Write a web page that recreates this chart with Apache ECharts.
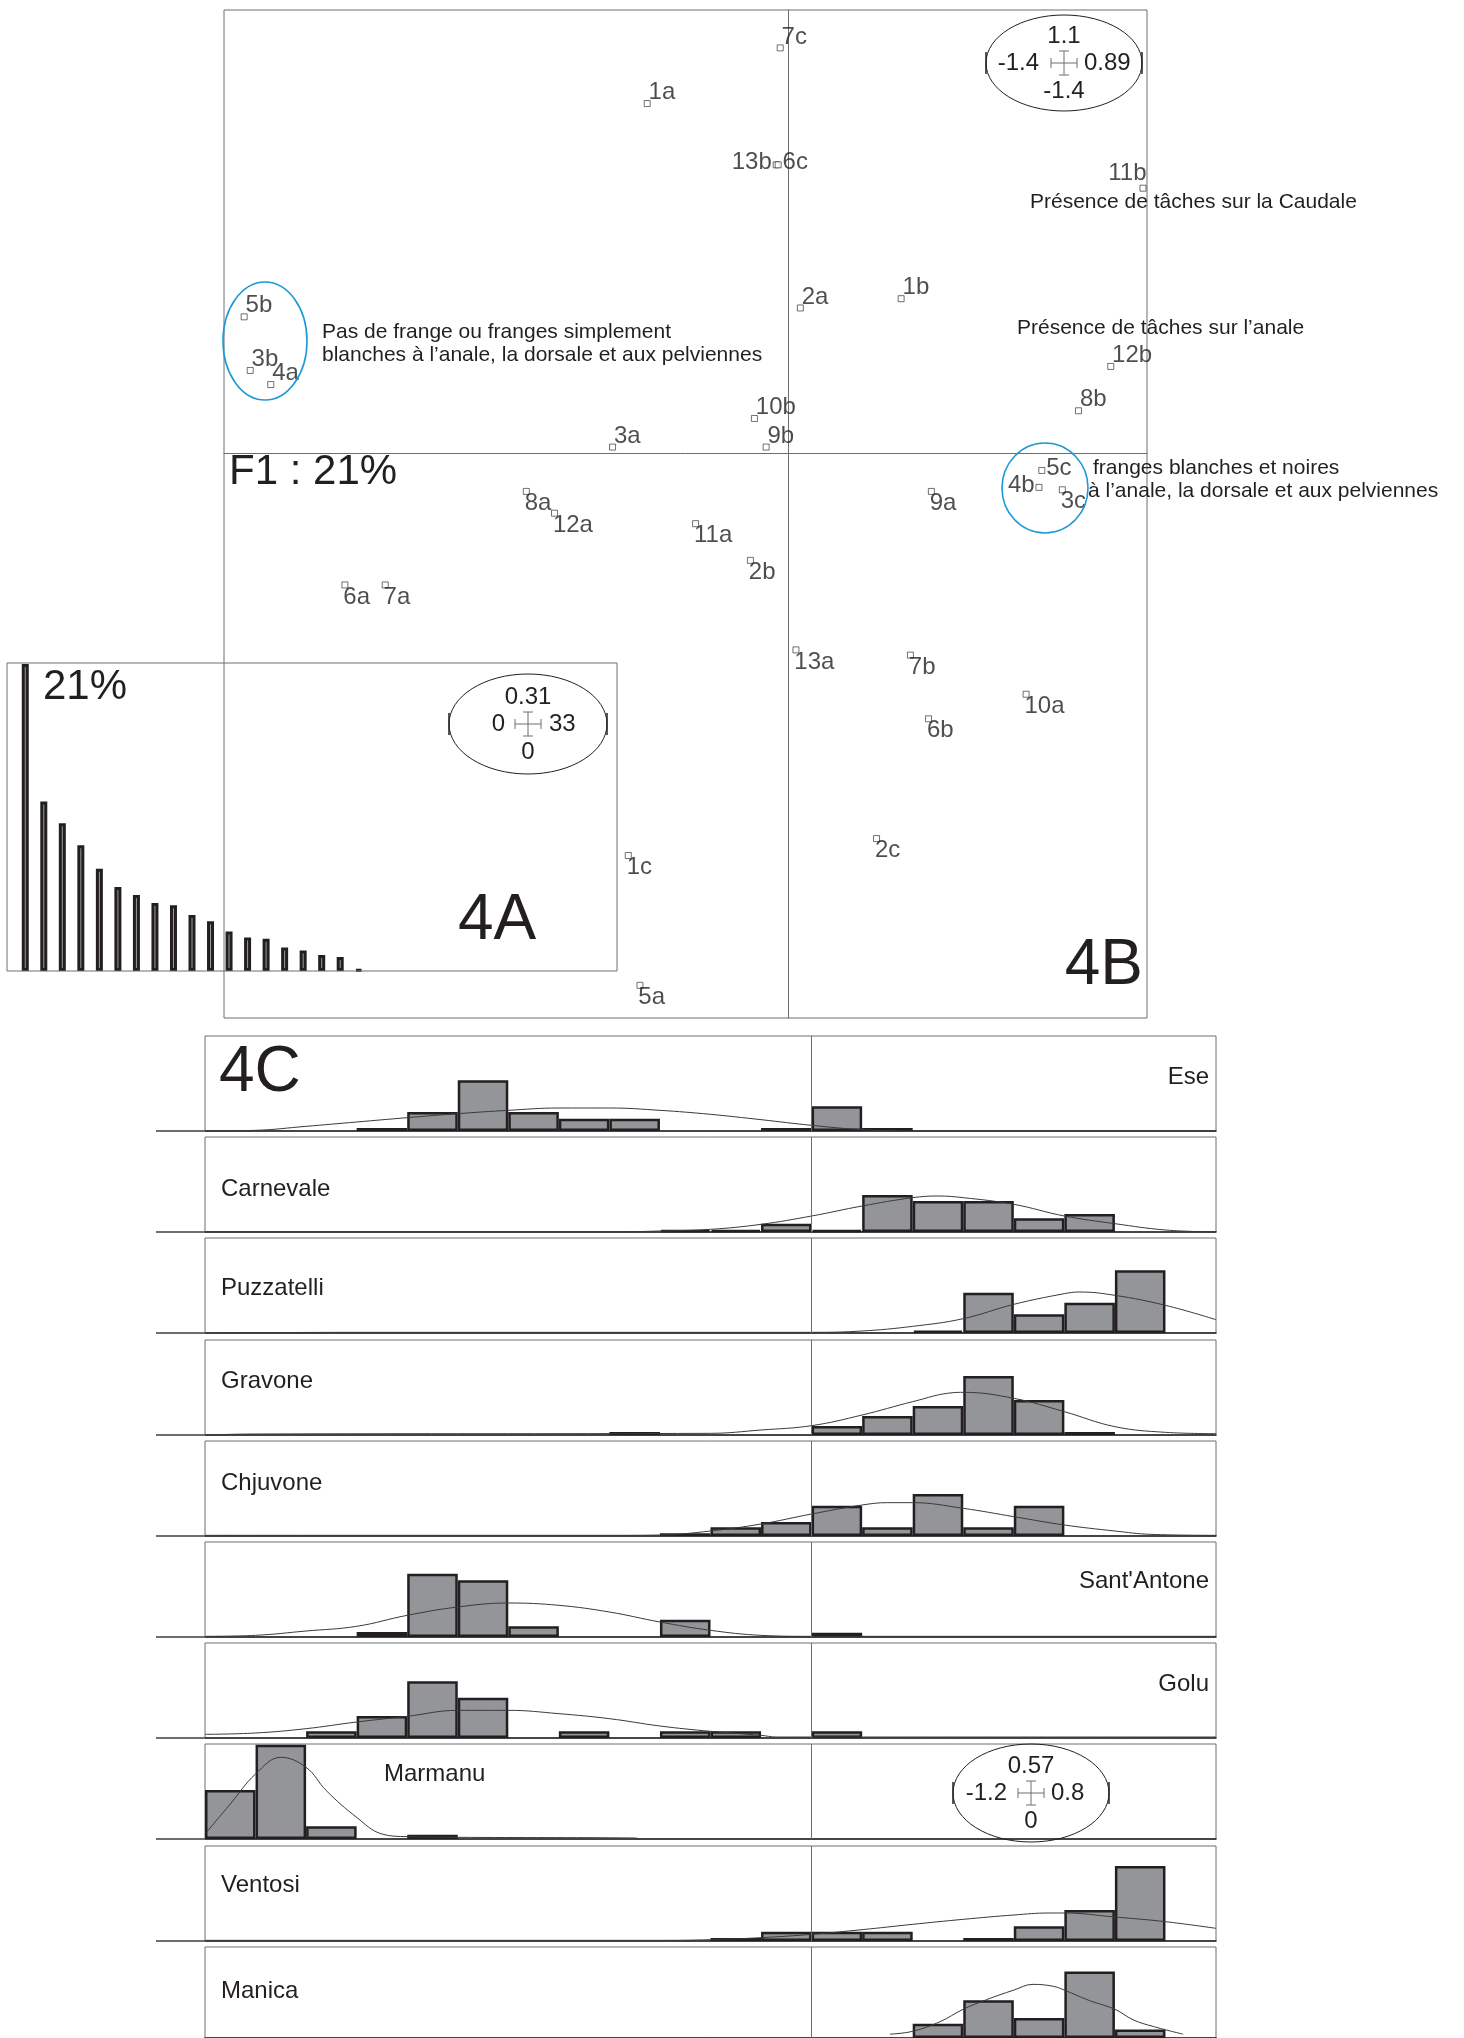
<!DOCTYPE html>
<html>
<head>
<meta charset="UTF-8">
<title>ACP - franges et tâches</title>
<script src="https://cdn.jsdelivr.net/npm/echarts@6/dist/echarts.min.js"></script>
<style>
  body { margin: 0; background: #fff; }
  #main { width: 1464px; height: 2038px; }
</style>
</head>
<body>
<div id="main"></div>
<script type="text/javascript">
// individus (plan F1 x F2)
var pointNames = ['7c','1a','13b','6c','11b','2a','1b','5b','3b','4a','12b','8b','10b','9b','3a',
  '8a','12a','11a','2b','6a','7a','9a','4b','5c','3c','13a','7b','10a','6b','2c','1c','5a'];
var f1 = [-0.02,-0.35,-0.03,-0.025,0.88,0.03,0.28,-1.35,-1.335,-1.284,0.80,0.72,-0.084,-0.055,-0.436,
  -0.65,-0.58,-0.23,-0.094,-1.10,-1.00,0.355,0.622,0.629,0.68,0.019,0.303,0.59,0.348,0.219,-0.397,-0.368];
var f2 = [1.006,0.868,0.716,0.716,0.658,0.361,0.384,0.339,0.206,0.171,0.216,0.106,0.087,0.016,0.016,
  -0.094,-0.148,-0.174,-0.265,-0.326,-0.326,-0.094,-0.084,-0.042,-0.09,-0.487,-0.50,-0.597,-0.658,-0.955,-0.997,-1.319];

// valeurs propres (%)
var eigenValues = [21, 11.6, 10.1, 8.6, 7.0, 5.75, 5.2, 4.65, 4.5, 3.83, 3.4, 2.7, 2.3, 2.2, 1.6, 1.4, 1.1, 0.96, 0.1];

// classes des histogrammes (bornes gauches)
var bins = ['-1.2','-1.1','-1.0','-0.9','-0.8','-0.7','-0.6','-0.5','-0.4','-0.3',
  '-0.2','-0.1','0','0.1','0.2','0.3','0.4','0.5','0.6','0.7'];

var siteNames = ['Ese','Carnevale','Puzzatelli','Gravone','Chjuvone',"Sant'Antone",'Golu','Marmanu','Ventosi','Manica'];

var ese        = [0,0,0,0.018,0.114,0.305,0.114,0.074,0.074,0,0,0.018,0.149,0.018,0,0,0,0,0,0];
var carnevale  = [0,0,0,0,0,0,0,0,0,0.012,0.012,0.05,0.012,0.222,0.186,0.186,0.082,0.108,0,0];
var puzzatelli = [0,0,0,0,0,0,0,0,0,0,0,0,0,0,0.014,0.242,0.112,0.182,0.376,0];
var gravone    = [0,0,0,0,0,0,0,0,0.018,0,0,0,0.054,0.114,0.174,0.354,0.21,0.018,0,0];
var chjuvone   = [0,0,0,0,0,0,0,0,0,0.016,0.052,0.084,0.182,0.052,0.252,0.052,0.182,0,0,0];
var santAntone = [0,0,0,0.03,0.38,0.34,0.064,0,0,0.104,0,0,0.025,0,0,0,0,0,0,0];
var golu       = [0,0,0.04,0.132,0.34,0.242,0,0.04,0,0.04,0.04,0,0.04,0,0,0,0,0,0,0];
var marmanu    = [0.294,0.566,0.076,0,0.026,0,0,0,0,0,0,0,0,0,0,0,0,0,0,0];
var ventosi    = [0,0,0,0,0,0,0,0,0,0,0.018,0.056,0.056,0.056,0,0.018,0.088,0.186,0.45,0];
var manica     = [0,0,0,0,0,0,0,0,0,0,0,0,0,0,0.09,0.236,0.126,0.416,0.054,0];

// courbes de densité [x, y]
var eseCurve = [[-1.2,0],[-1.1,0.004],[-1.0,0.028],[-0.9,0.054],[-0.8,0.08],[-0.7,0.104],[-0.6,0.124],[-0.5,0.138],[-0.4,0.138],[-0.3,0.124],[-0.2,0.1],[-0.1,0.068],[0,0.034],[0.1,0.008],[0.2,0],[0.8,0]];
var carnevaleCurve = [[-1.2,0],[-0.4,0],[-0.3,0.006],[-0.2,0.016],[-0.1,0.046],[0,0.096],[0.1,0.156],[0.2,0.206],[0.25,0.216],[0.3,0.206],[0.4,0.166],[0.5,0.096],[0.6,0.05],[0.7,0.012],[0.8,0]];
var puzzatelliCurve = [[-1.2,0],[-0.9,0.004],[0,0.004],[0.1,0.012],[0.2,0.04],[0.3,0.086],[0.4,0.172],[0.5,0.236],[0.53,0.246],[0.6,0.226],[0.7,0.166],[0.8,0.08]];
var gravoneCurve = [[-1.2,0],[-1.1,0.006],[-0.2,0.01],[-0.1,0.03],[0,0.056],[0.1,0.12],[0.2,0.2],[0.28,0.254],[0.3,0.256],[0.4,0.22],[0.5,0.14],[0.6,0.05],[0.7,0.016],[0.8,0.008]];
var chjuvoneCurve = [[-1.2,0.004],[-0.4,0.004],[-0.3,0.006],[-0.2,0.03],[-0.1,0.072],[0,0.132],[0.1,0.186],[0.15,0.2],[0.2,0.2],[0.3,0.166],[0.4,0.116],[0.5,0.066],[0.6,0.03],[0.67,0.01],[0.8,0.004]];
var santAntoneCurve = [[-1.2,0.004],[-1.1,0.01],[-1.0,0.036],[-0.9,0.064],[-0.8,0.13],[-0.7,0.18],[-0.6,0.204],[-0.5,0.19],[-0.4,0.15],[-0.3,0.09],[-0.2,0.04],[-0.1,0.01],[0,0.004],[0.8,0.004]];
var goluCurve = [[-1.2,0.022],[-1.1,0.03],[-1.0,0.056],[-0.9,0.096],[-0.8,0.13],[-0.7,0.166],[-0.6,0.166],[-0.5,0.146],[-0.4,0.116],[-0.3,0.072],[-0.2,0.04],[-0.1,0.016],[-0.07,0.006],[0.8,0.006]];
var marmanuCurve = [[-1.2,0.03],[-1.15,0.21],[-1.1,0.39],[-1.05,0.49],[-1.0,0.43],[-0.96,0.29],[-0.9,0.13],[-0.85,0.03],[-0.8,0.014],[-0.7,0.01],[-0.35,0.006],[-0.34,0]];
var ventosiCurve = [[-1.2,0.004],[-0.3,0.004],[-0.2,0.008],[-0.1,0.02],[0,0.04],[0.1,0.068],[0.2,0.1],[0.3,0.13],[0.4,0.156],[0.47,0.168],[0.5,0.168],[0.6,0.144],[0.7,0.116],[0.8,0.076]];
var manicaCurve = [[0.155,0.024],[0.2,0.042],[0.254,0.102],[0.3,0.18],[0.346,0.24],[0.4,0.3],[0.438,0.336],[0.478,0.324],[0.5,0.3],[0.55,0.234],[0.6,0.18],[0.636,0.114],[0.676,0.072],[0.735,0.024]];

var siteBars = [ese, carnevale, puzzatelli, gravone, chjuvone, santAntone, golu, marmanu, ventosi, manica];
var siteCurves = [eseCurve, carnevaleCurve, puzzatelliCurve, gravoneCurve, chjuvoneCurve,
  santAntoneCurve, goluCurve, marmanuCurve, ventosiCurve, manicaCurve];

var FONT = '"Liberation Sans", Arial, sans-serif';
var INK = '#231f20';
var GREY = '#6d6e71';

// placement des étiquettes
var labelPlace = {
  '7c':'ur','1a':'ur','6c':'r','2a':'ur','1b':'ur','5b':'ur','3b':'ur','4a':'ur','12b':'ur','8b':'ur',
  '10b':'ur','9b':'ur','3a':'ur','5c':'r','13b':'l','4b':'l','11b':'ul'
};
var placeStyle = {
  ur: { position: 'right', distance: 0, offset: [-2, -11] },
  r:  { position: 'right', distance: 1, offset: [0, -2] },
  lr: { position: 'right', distance: 0, offset: [-5, 12] },
  l:  { position: 'left', distance: 1, offset: [0, -2] },
  ul: { position: 'left', distance: 0, offset: [7, -15] }
};

var scatterData = pointNames.map(function (n, i) {
  var p = placeStyle[labelPlace[n] || 'lr'];
  return {
    value: [f1[i], f2[i]],
    name: n,
    label: { position: p.position, distance: p.distance, offset: p.offset }
  };
});

var panelLeft = 205, panelWidth = 1011, panelHeight = 95;
var panelTops = siteNames.map(function (s, k) { return Math.round(1036 + k * 101.2); });
var labelOffsets = [41, 52, 50, 41, 42, 39, 41, 30, 39, 44];
var labelRight = { 'Ese': true, "Sant'Antone": true, 'Golu': true };

var grids = [
  { left: 224, top: 10, width: 923, height: 1008, show: true, borderColor: GREY, borderWidth: 1 },
  { left: 16, top: 664, width: 352, height: 307 }
];
var xAxes = [
  { type: 'value', gridIndex: 0, min: -1.4, max: 0.89,
    axisLine: { show: true, onZero: true, lineStyle: { color: GREY, width: 1 } },
    axisTick: { show: false }, axisLabel: { show: false }, splitLine: { show: false } },
  { type: 'category', gridIndex: 1, data: eigenValues.map(function (v, i) { return String(i + 1); }), show: false }
];
var yAxes = [
  { type: 'value', gridIndex: 0, min: -1.4, max: 1.1,
    axisLine: { show: true, onZero: true, lineStyle: { color: GREY, width: 1 } },
    axisTick: { show: false }, axisLabel: { show: false }, splitLine: { show: false } },
  { type: 'value', gridIndex: 1, min: 0, max: 21, show: false }
];
var series = [
  { type: 'scatter', xAxisIndex: 0, yAxisIndex: 0, symbol: 'rect', symbolSize: 6,
    itemStyle: { color: '#fff', borderColor: INK, borderWidth: 0.8 },
    label: { show: true, formatter: '{b}', color: INK, fontSize: 24, fontFamily: FONT },
    data: scatterData, z: 5 },
  { type: 'bar', xAxisIndex: 1, yAxisIndex: 1, barWidth: 7, data: eigenValues,
    itemStyle: { color: '#9a9a9a', borderColor: INK, borderWidth: 3 } }
];

siteNames.forEach(function (s, k) {
  grids.push({ left: panelLeft, top: panelTops[k], width: panelWidth, height: panelHeight,
    show: true, borderColor: GREY, borderWidth: 1 });
  xAxes.push({ type: 'category', gridIndex: 2 + k, data: bins,
    axisLine: { show: true, lineStyle: { color: INK, width: 1.5 } },
    axisTick: { show: false }, axisLabel: { show: false } });
  xAxes.push({ type: 'value', gridIndex: 2 + k, min: -1.2, max: 0.8, show: false });
  yAxes.push({ type: 'value', gridIndex: 2 + k, min: 0, max: 0.57, show: false });
  series.push({
    type: 'bar', xAxisIndex: 2 + 2 * k, yAxisIndex: 2 + k, barCategoryGap: '0%',
    data: siteBars[k].map(function (v) { return v === 0 ? null : v; }),
    itemStyle: { color: '#939598', borderColor: INK, borderWidth: 2.5 }
  });
  series.push({
    type: 'line', xAxisIndex: 3 + 2 * k, yAxisIndex: 2 + k, data: siteCurves[k],
    smooth: 0.4, symbol: 'none', lineStyle: { color: '#3a3a3a', width: 1 }, z: 4,
    markLine: { silent: true, symbol: 'none', label: { show: false },
      lineStyle: { color: GREY, width: 1, type: 'solid' }, data: [{ xAxis: 0 }] }
  });
});

// éléments graphiques : textes, ellipses, légendes
function txt(text, x, y, size, align) {
  return { type: 'text', z: 10, style: { text: text, x: x, y: y, fill: INK,
    font: size + 'px ' + FONT, textAlign: align || 'left', textVerticalAlign: 'middle' } };
}
function line(x1, y1, x2, y2, color, w) {
  return { type: 'line', z: 10, shape: { x1: x1, y1: y1, x2: x2, y2: y2 },
    style: { stroke: color || INK, lineWidth: w || 1 } };
}
function legendGlyph(cx, cy, rx, ry, top, left, right, bottom, gap) {
  var g = [
    { type: 'ellipse', z: 10, shape: { cx: cx, cy: cy, rx: rx, ry: ry }, style: { fill: 'none', stroke: INK, lineWidth: 1 } },
    line(cx - rx, cy - 11, cx - rx, cy + 11, INK, 1.5),
    line(cx + rx, cy - 11, cx + rx, cy + 11, INK, 1.5),
    line(cx - 13, cy, cx + 13, cy, GREY, 1),
    line(cx - 13, cy - 5, cx - 13, cy + 5, GREY, 1),
    line(cx + 13, cy - 5, cx + 13, cy + 5, GREY, 1),
    line(cx, cy - 12, cx, cy + 12, GREY, 1),
    line(cx - 5, cy - 12, cx + 5, cy - 12, GREY, 1),
    line(cx - 5, cy + 12, cx + 5, cy + 12, GREY, 1),
    txt(top, cx, cy - 27, 24, 'center'),
    txt(left, cx - gap[0], cy, 24, 'right'),
    txt(right, cx + gap[1], cy, 24, 'left'),
    txt(bottom, cx, cy + 28, 24, 'center')
  ];
  return g;
}

var graphics = [
  { type: 'rect', z: 9, shape: { x: 7, y: 663, width: 610, height: 308 }, style: { fill: 'none', stroke: GREY, lineWidth: 1 } },
  { type: 'ellipse', z: 9, shape: { cx: 265, cy: 341, rx: 42, ry: 59 }, style: { fill: 'none', stroke: '#1b9ad6', lineWidth: 1.6 } },
  { type: 'ellipse', z: 9, shape: { cx: 1045, cy: 488, rx: 43, ry: 45 }, style: { fill: 'none', stroke: '#1b9ad6', lineWidth: 1.6 } },
  txt('Pas de frange ou franges simplement', 322, 332, 21),
  txt('blanches à l’anale, la dorsale et aux pelviennes', 322, 355, 21),
  txt('Présence de tâches sur la Caudale', 1030, 202, 21),
  txt('Présence de tâches sur l’anale', 1017, 328, 21),
  txt('franges blanches et noires', 1093, 468, 21),
  txt('à l’anale, la dorsale et aux pelviennes', 1088, 491, 21),
  txt('F1 : 21%', 229, 472, 42),
  txt('21%', 43, 687, 42),
  txt('4A', 458, 921, 64),
  txt('4B', 1143, 966, 64, 'right'),
  txt('4C', 219, 1073, 64)
];
graphics = graphics.concat(legendGlyph(1064, 63, 78, 48, '1.1', '-1.4', '0.89', '-1.4', [25, 20]));
graphics = graphics.concat(legendGlyph(528, 724, 79, 50, '0.31', '0', '33', '0', [23, 21]));
graphics = graphics.concat(legendGlyph(1031, 1793, 78, 49, '0.57', '-1.2', '0.8', '0', [24, 20]));

siteNames.forEach(function (s, k) {
  var base = panelTops[k] + panelHeight;
  graphics.push(line(156, base, panelLeft, base, GREY, 2));
  if (labelRight[s]) graphics.push(txt(s, 1209, panelTops[k] + labelOffsets[k], 24, 'right'));
  else if (s === 'Marmanu') graphics.push(txt(s, 384, panelTops[k] + labelOffsets[k], 24));
  else graphics.push(txt(s, 221, panelTops[k] + labelOffsets[k], 24));
});

var myChart = echarts.init(document.getElementById('main'));
myChart.setOption({
  backgroundColor: '#fff',
  animation: false,
  grid: grids,
  xAxis: xAxes,
  yAxis: yAxes,
  series: series,
  graphic: graphics
});
</script>
</body>
</html>
